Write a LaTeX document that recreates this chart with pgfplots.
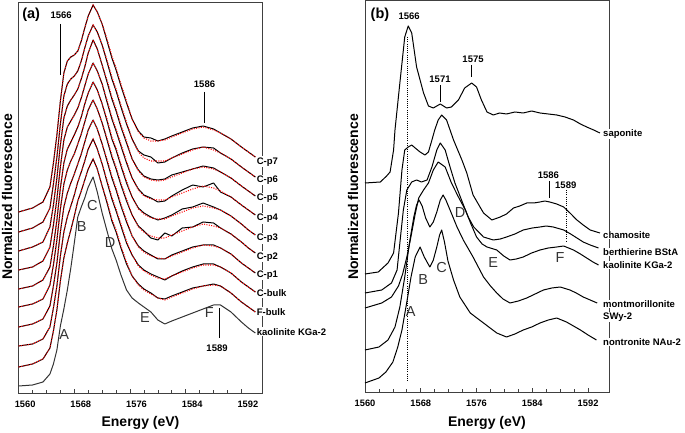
\documentclass[border=0pt]{standalone}
\usepackage{fontspec}
\setmainfont{Liberation Sans}
\usepackage{pgfplots}
\pgfplotsset{compat=1.18}
\usepackage{pgfplotstable}

\pgfplotstableread{
E k fb fbf cb cbf p1 p1f p2 p2f p3 p3f p4 p4f p5 p5f p6 p6f p7 p7f
1560 7 26 26 47 47 66 66 86 86 104 104 123 123 142 142 161 161 181 181
1562 8 29 29 49 49 69 69 89 89 107 107 126 126 146 146 165 165 185 185
1563.5 11 34 34 54 54 74 74 94 94 113 113 132 132 151 151 171 171 191 191
1564.5 19 45 45 66 66 87 87 108 108 126 126 146 146 166 166 185 185 206 206
1565 29 62 62 85 85 107 107 128 128 147 147 168 168 188 188 209 209 230 230
1565.5 43 83 83 107 107 130 130 153 153 173 173 194 194 215 215 236 236 258 258
1566 67 112 112 137 137 161 161 184 184 205 205 226 226 248 248 269 269 292 292
1566.5 84 135 135 161 161 186 186 209 209 230 230 253 253 275 275 297 297 320 320
1567 103 150 150 176 176 200 200 223 223 244 244 266 266 287 287 309 309 332 332
1567.5 125 163 163 187 187 210 210 232 232 251 251 272 272 293 293 314 314 336 336
1568 150 177 177 198 198 219 219 239 239 258 258 278 278 298 298 317 317 338 338
1568.5 176 192 192 211 211 229 229 249 249 266 266 285 285 304 304 322 322 342 342
1569 186 202 202 221 221 239 239 259 259 276 276 295 295 314 314 332 332 352 352
1569.5 195 213 213 232 232 251 251 271 271 289 289 307 307 326 326 345 345 365 365
1570 206 224 224 244 244 263 263 283 283 300 300 319 319 340 340 357 357 377 377
1570.7 216 234 234 254 254 273 273 293 293 311 311 330 330 353 353 368 368 388 388
1571.3 201 224 224 244 244 264 264 284 284 303 303 322 322 344 344 361 361 381 381
1572 180 207 207 229 229 249 249 270 270 289 289 309 309 328 328 348 348 369 369
1572.7 162 190 192 211 213 232 234 253 255 272 274 291 293 311 313 331 333 352 354
1573.4 144 172 174 194 196 215 217 236 238 254 256 274 276 294 296 314 316 335 337
1574 133 161 163 182 184 203 205 224 226 243 245 262 264 282 284 302 304 323 325
1574.7 118 145 147 167 169 187 189 208 210 227 229 247 249 266 268 286 288 307 309
1575.5 103 129 131 150 152 171 173 192 194 210 212 230 232 250 252 269 271 290 292
1576.3 95 117 117 138 138 157 157 178 178 196 196 215 215 234 234 254 254 274 274
1577.2 90 109 108 128 127 147 146 167 166 185 184 204 203 223 222 242 241 262 261
1578 86 104 103 123 122 142 141 162 161 180 179 198 197 217 216 238 235 256 255
1579 81 100 99 119 118 138 137 155 157 176 175 195 194 214 213 236 232 255 252
1580 73 95 95 116 115 134 135 153 155 173 174 191 193 213 212 230 232 252 252
1581 69 94 93 113 114 134 134 160 155 175 174 192 193 214 213 231 232 254 253
1582 72 97 96 117 117 138 137 157 158 178 177 197 196 218 216 235 235 257 256
1583.5 76 101 100 122 121 142 141 165 162 184 181 203 200 221 220 240 239 261 260
1585 80 105 104 126 125 146 145 166 166 186 185 208 204 224 224 244 243 265 264
1586.5 84 107 107 129 128 148 148 171 169 190 187 206 207 227 226 246 246 267 266
1588 88 109 108 129 128 148 147 170 167 186 185 210 205 225 224 245 243 264 263
1589 88 107 107 126 126 145 145 165 165 183 183 201 202 221 221 240 240 260 260
1590.5 81 100 100 120 120 139 139 159 159 177 177 196 196 215 215 234 234 254 254
1592 71 91 91 111 111 130 130 151 151 169 169 188 188 207 207 226 226 246 246
1593 65 86 86 106 106 125 125 145 145 163 163 183 183 202 202 221 221 241 241
1594 60 81 81 101 101 120 120 140 140 158 158 178 178 197 197 216 216 236 236
}\tabA

\tikzset{
  blk/.style={black, line width=1.0pt, line join=round},
  fit/.style={red, line width=1.05pt, dash pattern=on 1pt off 1.4pt},
  lab/.style={anchor=west, fill=white, inner sep=1pt, font=\bfseries\fontsize{9.5}{10}\selectfont},
  ann/.style={font=\bfseries\fontsize{9.5}{10}\selectfont, inner sep=1pt},
  let/.style={font=\fontsize{14.5}{15}\selectfont, text=black!80, inner sep=0pt},
}
\pgfplotsset{
  panel/.style={
    scale only axis,
    xmin=1560, xmax=1595,
    xtick={1560,1568,1576,1584,1592},
    xticklabels={1560,1568,1576,1584,1592},
    minor x tick num=3,
    xtick pos=left, ytick=\empty,
    tick align=inside,
    major tick length=4pt, minor tick length=3pt,
    xticklabel style={font=\bfseries\fontsize{9.3}{10}\selectfont, yshift=-4pt},
    axis line style={black!75, line width=0.8pt},
    every tick/.style={black!75, line width=0.7pt},
    clip=false,
  }
}

\begin{document}
\begin{tikzpicture}[x=1pt,y=1pt]
\path[use as bounding box] (0,0) rectangle (685,433);

% ---------------- panel (a)
\begin{axis}[panel,
  at={(18.6pt,40pt)}, anchor=south west,
  width=243.7pt, height=391pt,
  ymin=0, ymax=391,
  xticklabel style={xshift=6.5pt},
]
\addplot[blk, black!80] table[x=E,y=k]{\tabA};
\addplot[blk] table[x=E,y=fb]{\tabA};
\addplot[fit] table[x=E,y=fbf]{\tabA};
\addplot[blk] table[x=E,y=cb]{\tabA};
\addplot[fit] table[x=E,y=cbf]{\tabA};
\addplot[blk] table[x=E,y=p1]{\tabA};
\addplot[fit] table[x=E,y=p1f]{\tabA};
\addplot[blk] table[x=E,y=p2]{\tabA};
\addplot[fit] table[x=E,y=p2f]{\tabA};
\addplot[blk] table[x=E,y=p3]{\tabA};
\addplot[fit] table[x=E,y=p3f]{\tabA};
\addplot[blk] table[x=E,y=p4]{\tabA};
\addplot[fit] table[x=E,y=p4f]{\tabA};
\addplot[blk] table[x=E,y=p5]{\tabA};
\addplot[fit] table[x=E,y=p5f]{\tabA};
\addplot[blk] table[x=E,y=p6]{\tabA};
\addplot[fit] table[x=E,y=p6f]{\tabA};
\addplot[blk] table[x=E,y=p7]{\tabA};
\addplot[fit] table[x=E,y=p7f]{\tabA};

\node[font=\bfseries\fontsize{14.5}{15}\selectfont] at (axis cs:1561.8,378) {(a)};
\node[ann] at (axis cs:1566.1,378) {1566};
\draw[black, line width=0.7pt] (axis cs:1565.95,369) -- (axis cs:1565.95,318);
\node[ann] at (axis cs:1586.7,309) {1586};
\draw[black, line width=0.7pt] (axis cs:1586.65,301) -- (axis cs:1586.65,270);
\node[ann] at (axis cs:1588.5,45) {1589};
\draw[black, line width=0.7pt] (axis cs:1588.8,85) -- (axis cs:1588.8,55);

\node[let] at (axis cs:1566.56,58) {A};
\node[let] at (axis cs:1569.06,166) {B};
\node[let] at (axis cs:1570.6,187) {C};
\node[let] at (axis cs:1573.13,150) {D};
\node[let] at (axis cs:1578.15,75) {E};
\node[let] at (axis cs:1587.4,80) {F};

\node[lab] at (axis cs:1594.05,231.3) {C-p7};
\node[lab] at (axis cs:1594.05,213) {C-p6};
\node[lab] at (axis cs:1594.05,194.7) {C-p5};
\node[lab] at (axis cs:1594.05,174.7) {C-p4};
\node[lab] at (axis cs:1594.05,154.7) {C-p3};
\node[lab] at (axis cs:1594.05,136.3) {C-p2};
\node[lab] at (axis cs:1594.05,118) {C-p1};
\node[lab] at (axis cs:1594.05,99.7) {C-bulk};
\node[lab] at (axis cs:1594.05,81.3) {F-bulk};
\node[lab] at (axis cs:1594.05,61.3) {kaolinite KGa-2};
\end{axis}

% ---------------- panel (b)
\begin{axis}[panel,
  at={(365pt,41pt)}, anchor=south west,
  width=244pt, height=392pt,
  ymin=0, ymax=392,
]
\draw[black, line width=0.8pt, dash pattern=on 1pt off 1.2pt] (axis cs:1566.13,355) -- (axis cs:1566.13,10);
\draw[black, line width=0.8pt, dash pattern=on 1pt off 1.2pt] (axis cs:1588.94,202) -- (axis cs:1588.94,150);

% saponite
\addplot[blk] coordinates {(1560,209)(1562.2,210)(1563.1,216)(1563.6,220)(1564.1,242)(1564.3,262)(1565.0,309)(1565.7,355)(1566.2,366)(1566.7,359)(1567.4,325)(1568.4,299)(1569.1,286)(1569.8,284)(1570.8,288)(1571.7,284)(1572.4,285)(1573.4,292)(1574.3,304)(1575.3,309)(1576.0,305)(1576.7,292)(1577.5,280)(1578.4,277)(1579.3,279)(1580.3,278)(1581.5,280)(1582.7,279)(1583.9,281)(1585.1,279)(1586.3,278)(1587.5,277)(1588.7,275)(1589.9,272)(1590.9,268)(1591.8,265)(1592.8,262)(1593.7,259)};
% chamosite
\addplot[blk] coordinates {(1560,118)(1561.9,120)(1563.3,129)(1564.1,139)(1564.8,179)(1565.3,222)(1565.7,242)(1566.2,245)(1566.7,247)(1567.2,244)(1567.9,240)(1568.6,237)(1569.1,240)(1569.6,252)(1570.0,262)(1570.5,272)(1571.0,277)(1571.7,272)(1572.7,252)(1573.9,232)(1574.6,219)(1575.5,197)(1577.0,179)(1578.2,172)(1579.4,175)(1580.3,178)(1581.3,184)(1582.2,186)(1583.2,189)(1584.2,189)(1585.1,190)(1585.8,191)(1586.5,190)(1587.5,188)(1588.5,185)(1589.4,179)(1590.4,172)(1591.3,167)(1592.3,162)(1593.7,159)};
% berthierine
\addplot[blk] coordinates {(1560,99)(1562.4,102)(1563.8,109)(1564.6,122)(1565.0,149)(1565.5,182)(1566.0,202)(1566.7,210)(1567.4,212)(1568.1,210)(1568.9,212)(1569.6,225)(1570.3,242)(1570.8,249)(1571.5,242)(1572.2,225)(1572.9,209)(1573.9,191)(1574.8,175)(1575.6,165)(1577.0,155)(1578.4,152)(1579.4,153)(1580.3,155)(1581.5,158)(1582.7,162)(1584.0,164)(1585.1,165)(1586.0,166)(1587.0,165)(1588.5,162)(1589.5,158)(1590.4,154)(1591.3,150)(1592.3,147)(1593.5,144)};
% kaolinite
\addplot[blk] coordinates {(1560,84)(1562.4,89)(1563.8,95)(1564.8,106)(1565.4,118)(1566.0,135)(1566.5,152)(1567.2,178)(1567.7,194)(1568.4,202)(1569.1,209)(1569.8,222)(1570.5,230)(1571.5,225)(1572.4,209)(1573.4,195)(1574.4,182)(1575.2,168)(1576.0,155)(1576.8,148)(1577.5,145)(1578.9,142)(1579.9,136)(1580.8,132)(1581.7,133)(1582.7,135)(1583.9,139)(1585.1,142)(1586.3,144)(1587.5,145)(1588.5,146)(1589.9,142)(1590.9,138)(1591.8,134)(1592.7,130)(1593.5,127)};
% montmorillonite
\addplot[blk] coordinates {(1560,42)(1562,45)(1563.3,52)(1564.3,65)(1565.0,85)(1565.7,115)(1566.4,150)(1567.0,175)(1567.4,187)(1567.75,192)(1568.2,186)(1568.7,174)(1569.3,165)(1569.8,170)(1570.3,180)(1570.8,192)(1571.2,197)(1571.6,192)(1572.2,182)(1573.2,165)(1574.1,152)(1575.5,135)(1577.0,115)(1578.0,106)(1578.9,99)(1579.8,93)(1580.8,89)(1582.0,91)(1583.2,94)(1584.4,98)(1585.6,102)(1586.8,104)(1588.0,105)(1589.4,102)(1590.3,99)(1591.3,95)(1592.3,92)(1593.3,89)};
% nontronite
\addplot[blk] coordinates {(1560,9)(1562,14)(1563,20)(1564,30)(1564.7,45)(1565.3,62)(1566.0,90)(1566.6,115)(1567.2,135)(1567.9,145)(1568.5,135)(1569.3,125)(1569.8,132)(1570.3,145)(1570.7,157)(1571.0,162)(1571.4,150)(1571.9,131)(1572.7,112)(1573.6,95)(1575.1,79)(1577.0,69)(1578.9,59)(1580.3,55)(1581.5,58)(1582.7,62)(1583.9,65)(1585.1,69)(1586.3,72)(1587.5,74)(1588.9,70)(1589.9,66)(1590.9,62)(1592.0,57)(1593.2,52)};

\node[font=\bfseries\fontsize{14.5}{15}\selectfont] at (axis cs:1562.15,377) {(b)};
\node[ann] at (axis cs:1566.34,376) {1566};
\node[ann] at (axis cs:1570.76,313) {1571};
\draw[black, line width=0.7pt] (axis cs:1570.76,307) -- (axis cs:1570.76,290);
\node[ann] at (axis cs:1575.5,333) {1575};
\draw[black, line width=0.7pt] (axis cs:1575.31,327) -- (axis cs:1575.31,315);
\node[ann] at (axis cs:1586.3,217) {1586};
\draw[black, line width=0.7pt] (axis cs:1586.45,211) -- (axis cs:1586.45,194);
\node[ann] at (axis cs:1588.8,207) {1589};

\node[let] at (axis cs:1566.56,80) {A};
\node[let] at (axis cs:1568.36,112) {B};
\node[let] at (axis cs:1571.0,124) {C};
\node[let] at (axis cs:1573.63,179) {D};
\node[let] at (axis cs:1578.4,129) {E};
\node[let] at (axis cs:1587.98,134) {F};

\node[lab] at (axis cs:1594.0,258) {saponite};
\node[lab] at (axis cs:1594.0,157) {chamosite};
\node[lab] at (axis cs:1594.0,140) {berthierine BStA};
\node[lab] at (axis cs:1594.0,127) {kaolinite KGa-2};
\node[lab] at (axis cs:1594.0,88) {montmorillonite};
\node[lab] at (axis cs:1594.0,75) {SWy-2};
\node[lab] at (axis cs:1594.0,50) {nontronite NAu-2};
\end{axis}

% axis titles
\node[rotate=90, font=\bfseries\fontsize{14}{15}\selectfont] at (7,236) {Normalized fluorescence};
\node[rotate=90, font=\bfseries\fontsize{14}{15}\selectfont] at (353,236) {Normalized fluorescence};
\node[font=\bfseries\fontsize{14}{15}\selectfont] at (140.5,10) {Energy (eV)};
\node[font=\bfseries\fontsize{14}{15}\selectfont] at (487,10) {Energy (eV)};
\end{tikzpicture}
\end{document}
